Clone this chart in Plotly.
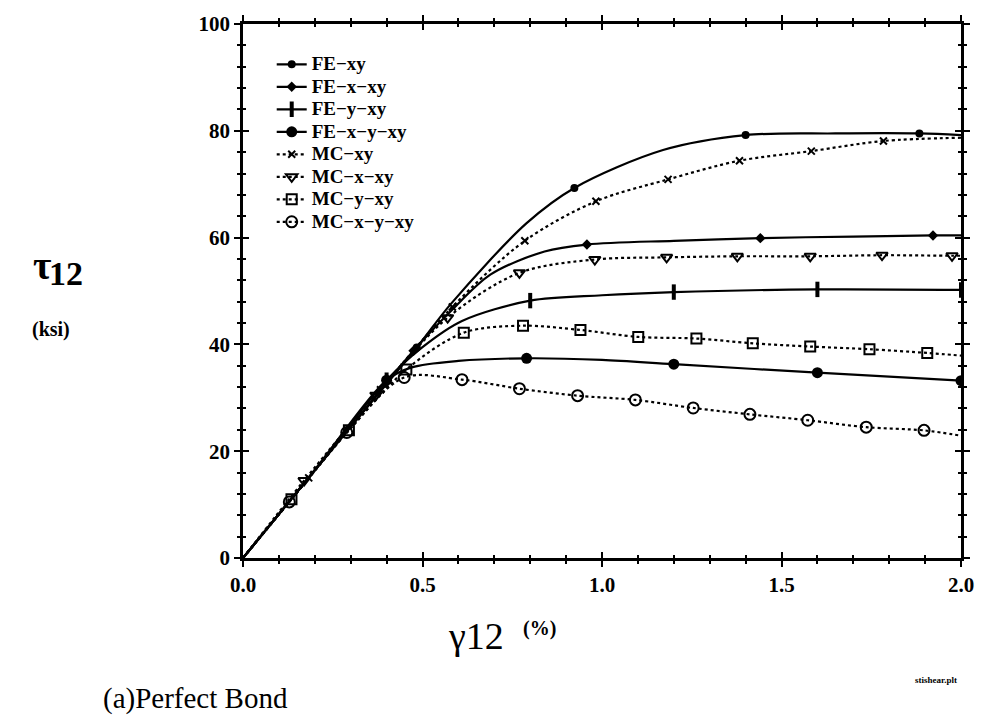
import plotly.graph_objects as go

# Shear strain gamma_12 (%) and shear stress tau_12 (ksi) for each model
fe_xy_g = [0, 0.25, 0.484, 0.578, 0.79, 0.923, 1.17, 1.40, 1.65, 1.884, 2.0]
fe_xy_t = [0, 20.5, 39.4, 47.5, 62.7, 69.3, 76.4, 79.2, 79.5, 79.5, 79.2]
fe_xy_m = [2, 5, 7, 9]

fe_x_xy_g = [0, 0.25, 0.475, 0.58, 0.69, 0.84, 0.958, 1.2, 1.441, 1.7, 1.922, 2.0]
fe_x_xy_t = [0, 20.5, 38.8, 46.3, 53.1, 57.4, 58.7, 59.4, 59.9, 60.2, 60.4, 60.4]
fe_x_xy_m = [2, 6, 8, 10]

fe_y_xy_g = [0, 0.2, 0.4, 0.5, 0.61, 0.8, 1.0, 1.2, 1.6, 2.0]
fe_y_xy_t = [0, 16.5, 33.3, 39.5, 44.4, 48.2, 49.2, 49.8, 50.3, 50.2]
fe_y_xy_m = [2, 5, 7, 8, 9]

fe_x_y_xy_g = [0, 0.2, 0.4, 0.47, 0.6, 0.79, 1.0, 1.2, 1.6, 2.0]
fe_x_y_xy_t = [0, 16.5, 33.3, 35.7, 36.9, 37.4, 37.1, 36.3, 34.7, 33.2]
fe_x_y_xy_m = [2, 5, 7, 8, 9]

mc_xy_g = [0, 0.183, 0.383, 0.583, 0.785, 0.983, 1.184, 1.383, 1.583, 1.784, 2.0]
mc_xy_t = [0, 15.0, 31.5, 47.0, 59.4, 66.8, 70.9, 74.4, 76.2, 78.1, 78.7]
mc_xy_m = [1, 2, 3, 4, 5, 6, 7, 8, 9]

mc_x_xy_g = [0, 0.17, 0.37, 0.57, 0.77, 0.98, 1.18, 1.377, 1.58, 1.78, 1.975, 2.0]
mc_x_xy_t = [0, 14.5, 30.5, 45.0, 53.4, 55.9, 56.3, 56.5, 56.5, 56.7, 56.6, 56.6]
mc_x_xy_m = [1, 2, 3, 4, 5, 6, 7, 8, 9, 10]

mc_y_xy_g = [0, 0.135, 0.295, 0.455, 0.615, 0.78, 0.94, 1.101, 1.263, 1.42, 1.58, 1.745, 1.906, 2.0]
mc_y_xy_t = [0, 11.0, 23.9, 35.3, 42.2, 43.5, 42.7, 41.4, 41.1, 40.2, 39.6, 39.1, 38.4, 37.9]
mc_y_xy_m = [1, 2, 3, 4, 5, 6, 7, 8, 9, 10, 11, 12]

mc_x_y_xy_g = [0, 0.129, 0.289, 0.449, 0.61, 0.77, 0.932, 1.093, 1.254, 1.412, 1.573, 1.736, 1.897, 2.0]
mc_x_y_xy_t = [0, 10.5, 23.5, 33.8, 33.4, 31.7, 30.4, 29.6, 28.1, 26.9, 25.8, 24.5, 23.9, 22.9]
mc_x_y_xy_m = [1, 2, 3, 4, 5, 6, 7, 8, 9, 10, 11, 12]

x_ticks = [0.0, 0.5, 1.0, 1.5, 2.0]
y_ticks = [0, 20, 40, 60, 80, 100]

DOT = "3px,3px"
SERIF = "Liberation Serif"

series = [
    ("FE\u2212xy", fe_xy_g, fe_xy_t, fe_xy_m, "solid",
     dict(symbol="circle", size=8)),
    ("FE\u2212x\u2212xy", fe_x_xy_g, fe_x_xy_t, fe_x_xy_m, "solid",
     dict(symbol="diamond", size=8)),
    ("FE\u2212y\u2212xy", fe_y_xy_g, fe_y_xy_t, fe_y_xy_m, "solid",
     dict(symbol="line-ns-open", size=11, line=dict(width=4, color="black"))),
    ("FE\u2212x\u2212y\u2212xy", fe_x_y_xy_g, fe_x_y_xy_t, fe_x_y_xy_m, "solid",
     dict(symbol="circle", size=11)),
    ("MC\u2212xy", mc_xy_g, mc_xy_t, mc_xy_m, DOT,
     dict(symbol="x-thin-open", size=7, line=dict(width=2, color="black"))),
    ("MC\u2212x\u2212xy", mc_x_xy_g, mc_x_xy_t, mc_x_xy_m, DOT,
     dict(symbol="triangle-down-open", size=10, line=dict(width=2, color="black"))),
    ("MC\u2212y\u2212xy", mc_y_xy_g, mc_y_xy_t, mc_y_xy_m, DOT,
     dict(symbol="square-open", size=10, line=dict(width=2, color="black"))),
    ("MC\u2212x\u2212y\u2212xy", mc_x_y_xy_g, mc_x_y_xy_t, mc_x_y_xy_m, DOT,
     dict(symbol="circle-open", size=11, line=dict(width=2, color="black"))),
]

fig = go.Figure()

for name, g, t, marks, dash, mk in series:
    mk = dict(mk, color="black")
    # smooth response curve
    fig.add_trace(go.Scatter(
        x=g, y=t, mode="lines", showlegend=False, hoverinfo="skip",
        line=dict(color="black", width=2.2, dash=dash, shape="spline", smoothing=0.9),
    ))
    # symbols at the sampled points
    fig.add_trace(go.Scatter(
        x=[g[i] for i in marks], y=[t[i] for i in marks],
        mode="markers", showlegend=False, marker=mk, name=name,
    ))
    # legend entry (line with symbol); larger label text, compact rows
    fig.add_trace(go.Scatter(
        x=[None], y=[None], mode="lines+markers",
        name=f"<span style='font-size:19px'>{name}</span>",
        line=dict(color="black", width=2.2, dash=dash), marker=mk,
    ))

axis_common = dict(
    showline=True, linecolor="black", linewidth=2.5, showgrid=False,
    zeroline=False, mirror="ticks", tickcolor="black", tickwidth=2,
)

fig.update_layout(
    width=986, height=721,
    margin=dict(l=243, r=24, t=17, b=163),
    paper_bgcolor="white", plot_bgcolor="white",
    showlegend=True,
    legend=dict(
        x=0.04, y=0.955, xanchor="left", yanchor="top",
        bgcolor="rgba(0,0,0,0)", borderwidth=0, tracegroupgap=0,
        font=dict(family=SERIF, size=15, color="black", weight="bold"),
        itemwidth=30,
    ),
    xaxis=dict(
        range=[0, 2.0], tickvals=x_ticks, ticktext=[f"{v:.1f}" for v in x_ticks],
        ticks="outside", ticklen=6,
        minor=dict(dtick=0.1, ticks="outside", ticklen=3, tickwidth=2, tickcolor="black"),
        tickfont=dict(family=SERIF, size=21, color="black", weight="bold"),
        **axis_common,
    ),
    yaxis=dict(
        range=[0, 100], tickvals=y_ticks, ticktext=[str(v) for v in y_ticks],
        ticks="outside", ticklen=6,
        minor=dict(dtick=4, ticks="outside", ticklen=3, tickwidth=2, tickcolor="black"),
        tickfont=dict(family=SERIF, size=21, color="black", weight="bold"),
        **axis_common,
    ),
    xaxis2=dict(
        overlaying="x", matches="x", range=[0, 2.0], tickvals=x_ticks,
        showticklabels=False, ticks="inside", ticklen=6,
        minor=dict(dtick=0.1, ticks="inside", ticklen=3, tickwidth=2, tickcolor="black"),
        **axis_common,
    ),
    yaxis2=dict(
        overlaying="y", matches="y", range=[0, 100], tickvals=y_ticks,
        showticklabels=False, ticks="inside", ticklen=6,
        minor=dict(dtick=4, ticks="inside", ticklen=3, tickwidth=2, tickcolor="black"),
        **axis_common,
    ),
)

# an empty trace so the inner tick axes are drawn
fig.add_trace(go.Scatter(x=[None], y=[None], xaxis="x2", yaxis="y2",
                         showlegend=False, hoverinfo="skip"))

ann = [
    dict(text="\u03c4", x=42, y=262, size=40, weight="bold"),
    dict(text="12", x=66, y=270, size=34, weight="bold"),
    dict(text="(ksi)", x=51, y=327, size=20, weight="bold"),
    dict(text="\u03b312", x=476, y=637, size=38, weight="normal"),
    dict(text="(%)", x=540, y=629, size=20, weight="bold"),
    dict(text="(a)Perfect Bond", x=195, y=700, size=29, weight="normal"),
    dict(text="stishear.plt", x=937, y=682, size=9, weight="bold"),
]
for a in ann:
    fig.add_annotation(
        text=a["text"], xref="paper", yref="paper",
        x=(a["x"] - 243) / (986 - 243 - 24), y=1 - (a["y"] - 17) / (721 - 17 - 163),
        xanchor="center", yanchor="middle", showarrow=False,
        font=dict(family=SERIF, size=a["size"], color="black", weight=a["weight"]),
    )

fig.write_html("out.html")
